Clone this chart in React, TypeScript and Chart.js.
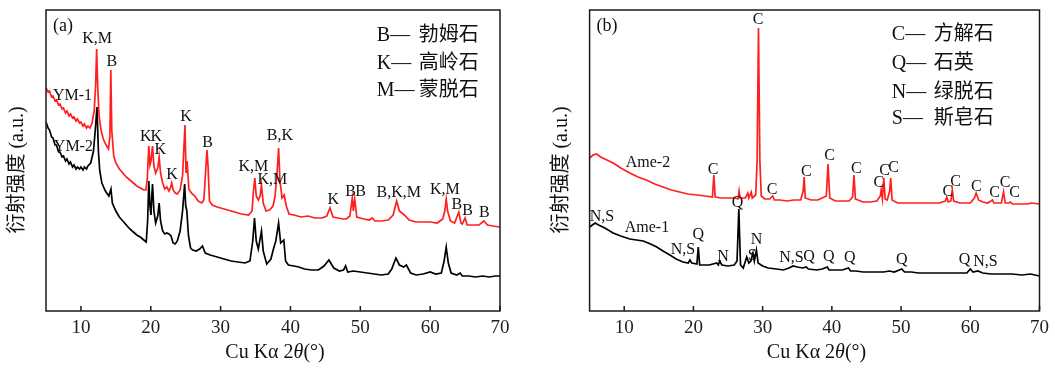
import React, { useEffect, useRef } from "react";
import { Chart, registerables } from "chart.js";
Chart.register(...registerables);

const SERIF = '"Liberation Serif", "Times New Roman", "Noto Sans CJK SC", serif';

const xTicks = [10, 20, 30, 40, 50, 60, 70];

// Panel (a) series: [2θ, intensity]
const ym1: [number, number][] = [[5.0,223],[5.3,219],[5.5,220],[5.8,214],[6.0,215],[6.3,210],[6.5,211],[6.8,206],[7.0,207],[7.3,202],[7.5,203],[7.8,198],[8.0,200],[8.3,195],[8.5,197],[8.8,193],[9.0,194],[9.3,190],[9.5,192],[9.8,188],[10.0,189],[10.3,185],[10.5,187],[10.8,183],[11.0,185],[11.3,183],[11.6,188],[11.9,200],[12.1,225],[12.25,262],[12.4,225],[12.6,195],[12.9,180],[13.2,172],[13.6,166],[13.95,162],[14.15,175],[14.28,241],[14.42,180],[14.7,155],[15.0,148],[15.5,142],[16.0,138],[16.5,134],[17.0,131],[17.5,128],[18.0,125],[18.5,123],[19.0,121],[19.3,121],[19.5,132],[19.72,165],[19.88,146],[20.03,150],[20.25,165],[20.45,145],[20.7,138],[21.0,143],[21.2,154],[21.4,138],[21.7,128],[22.0,122],[22.3,124],[22.6,120],[22.85,124],[23.0,128],[23.2,121],[23.5,118],[23.8,117],[24.2,121],[24.55,135],[24.9,186],[25.05,138],[25.2,150],[25.45,122],[25.8,118],[26.3,115],[26.8,110],[27.3,108],[27.6,111],[27.9,145],[28.05,161],[28.2,145],[28.4,110],[28.8,106],[29.5,104],[30.0,103],[31.0,101],[32.0,99],[33.0,97],[34.0,96],[34.5,100],[34.7,120],[34.9,133],[35.1,115],[35.4,111],[35.65,115],[35.85,126],[36.1,108],[36.5,100],[37.0,101],[37.5,105],[37.8,115],[38.1,140],[38.3,163],[38.5,130],[38.8,113],[39.1,116],[39.4,105],[39.8,97],[40.5,96],[41.5,94],[42.5,95],[43.5,93],[44.5,93],[45.2,95],[45.65,103],[46.1,94],[46.8,93],[47.5,92],[48.0,92],[48.5,95],[48.85,113],[49.0,100],[49.2,112],[49.5,94],[50.5,92],[51.3,91],[51.7,93],[52.1,90],[53.0,90],[54.0,91],[54.7,96],[55.2,110],[55.6,100],[56.3,96],[57.0,91],[58.0,89],[59.0,89],[60.0,89],[61.0,88],[61.8,92],[62.1,100],[62.3,112],[62.5,100],[62.9,90],[63.5,88],[64.1,99],[64.4,88],[64.6,87],[65.0,93],[65.3,86],[66.0,86],[67.0,86],[67.7,90],[68.2,86],[69.0,85],[70.0,84]];

const ym2: [number, number][] = [[5.0,189],[5.3,183],[5.5,181],[5.8,174],[6.0,173],[6.3,166],[6.5,166],[6.8,159],[7.0,159],[7.3,154],[7.5,155],[7.8,150],[8.0,152],[8.3,147],[8.5,149],[8.8,144],[9.0,146],[9.3,142],[9.5,144],[9.8,142],[10.0,144],[10.3,141],[10.5,144],[10.8,142],[11.0,145],[11.4,148],[11.8,160],[12.1,185],[12.3,204],[12.5,160],[12.7,140],[13.0,128],[13.5,120],[14.0,115],[14.3,122],[14.5,108],[15.0,100],[15.5,94],[16.0,90],[16.5,86],[17.0,82],[17.5,79],[18.0,76],[18.5,74],[19.0,71],[19.35,69],[19.55,90],[19.72,130],[19.88,105],[20.03,96],[20.15,115],[20.25,127],[20.45,100],[20.7,88],[21.0,95],[21.2,108],[21.4,90],[21.7,80],[22.0,77],[22.3,78],[22.6,77],[22.9,75],[23.2,68],[23.5,67],[23.8,70],[24.2,80],[24.55,100],[24.85,127],[25.0,105],[25.15,101],[25.4,75],[25.7,63],[26.0,61],[26.5,60],[27.0,62],[27.4,65],[27.8,58],[28.5,56],[29.5,54],[30.5,52],[31.5,50],[32.5,49],[33.5,48],[34.2,50],[34.6,70],[34.85,93],[35.1,70],[35.4,62],[35.6,70],[35.85,80],[36.1,60],[36.6,47],[37.2,52],[37.6,63],[37.9,70],[38.3,88],[38.6,68],[39.05,71],[39.3,50],[39.7,46],[40.5,45],[41.2,44],[42.0,42],[43.0,41],[44.0,41],[44.8,45],[45.5,51],[46.2,43],[47.0,40],[47.6,41],[47.9,45],[48.2,39],[49.0,40],[50.0,39],[51.0,38],[52.0,37],[53.0,36],[54.0,37],[54.5,42],[55.1,53],[55.6,46],[56.2,44],[56.6,46],[57.2,38],[58.0,36],[59.0,37],[60.0,39],[60.8,37],[61.6,38],[62.0,50],[62.3,64],[62.6,48],[63.0,38],[63.8,36],[64.3,38],[64.6,35],[65.5,35],[66.5,34],[67.5,35],[68.5,34],[69.3,35],[70.0,35]];

// Panel (b) series
const ame2: [number, number][] = [[5.0,153],[5.5,156],[6.0,157],[6.6,154],[7.5,151],[8.4,148],[9.5,143],[10.8,138],[12.0,134],[13.2,131],[14.4,127],[15.6,124],[16.8,121],[18.0,119],[19.2,117],[20.5,116],[21.7,115],[22.75,114],[22.95,136],[23.15,114],[24.0,113],[25.0,113],[26.0,113],[26.45,112],[26.6,120],[26.75,113],[27.5,113],[27.85,118],[28.0,113],[28.35,119],[28.5,113],[29.0,116],[29.2,150],[29.4,283],[29.6,150],[29.8,115],[30.3,112],[31.0,112],[31.45,115],[31.7,111],[32.5,111],[33.5,110],[34.5,111],[35.5,111],[35.85,120],[36.0,134],[36.15,113],[37.0,111],[38.0,111],[39.2,115],[39.45,147],[39.7,113],[40.5,110],[41.5,110],[42.5,110],[43.0,114],[43.2,136],[43.4,112],[44.5,109],[45.5,109],[46.5,110],[47.0,115],[47.12,121],[47.3,112],[47.5,133],[47.7,112],[48.0,111],[48.35,120],[48.5,133],[48.7,111],[49.5,108],[51.0,108],[52.5,108],[54.0,108],[55.5,108],[56.4,110],[56.6,114],[56.8,109],[57.2,110],[57.4,121],[57.6,110],[58.5,108],[60.0,108],[60.6,113],[60.85,118],[61.2,111],[61.8,109],[62.5,108],[63.0,110],[63.2,111],[63.4,108],[64.5,108],[64.8,119],[65.05,108],[65.6,108],[65.8,109],[66.1,107],[67.0,107],[68.3,107],[68.8,108],[70.0,107]];

const ame1: [number, number][] = [[5.0,84],[5.4,86],[5.8,88],[6.3,86],[7.2,83],[8.4,78],[9.5,75],[10.8,72],[12.75,70],[13.8,67],[14.7,64],[15.6,60],[16.6,56],[17.5,52],[18.5,49],[19.25,48],[19.5,51],[19.75,48],[20.5,47],[20.7,64],[20.9,46],[21.5,46],[22.3,46],[23.35,48],[23.6,46],[23.8,50],[24.1,46],[25.0,45],[25.9,46],[26.3,50],[26.56,102],[26.8,46],[27.2,43],[27.7,54],[28.0,48],[28.3,50],[28.6,58],[28.8,50],[29.1,61],[29.35,48],[30.0,45],[30.8,43],[32.0,42],[33.0,41],[33.8,43],[34.4,45],[35.0,44],[35.8,43],[36.3,44],[36.6,42],[37.8,41],[38.6,42],[39.35,44],[39.6,41],[40.5,41],[41.5,41],[42.4,43],[42.7,40],[43.5,40],[44.5,39],[45.5,39],[46.5,39],[47.5,39],[48.3,40],[49.0,39],[50.1,42],[50.5,39],[51.5,39],[52.5,38],[54.0,38],[55.5,38],[57.0,38],[58.5,38],[59.5,38],[60.0,42],[60.4,39],[61.1,40],[61.8,38],[63.0,37],[63.75,37],[65.0,37],[66.0,37],[67.5,36],[68.7,37],[70.0,35]];

// Peak labels: [text, 2θ, intensity]
const labelsA: [string, number, number][] = [["K,M",12.32,272],["B",14.43,249],["YM-1",8.8,215],["YM-2",8.92,164],["K",19.28,174],["K",20.78,174],["K",21.36,161],["K",23.03,136],["K",25.04,194],["B",28.14,168],["K,M",34.7,144],["K,M",37.42,131],["B,K",38.5,175],["K",46.13,111],["B",48.6,119],["B",50.05,119],["B,K,M",55.5,118],["K,M",62.1,121],["B",63.82,106],["B",65.36,100],["B",67.74,98]];

const labelsB: [string, number, number][] = [["C",29.34,291],["Ame-2",13.43,148],["C",22.85,141],["C",31.36,121],["C",36.33,139],["C",39.69,155],["C",43.54,142],["C",46.8,128],["C",47.63,140],["C",48.93,143],["C",56.76,119],["C",57.87,129],["C",60.86,124],["C",63.5,118],["C",65.04,128],["C",66.39,118],["N,S",6.79,94],["Ame-1",13.28,83],["N,S",18.48,61],["Q",20.69,76],["N",24.29,54],["Q",26.37,108],["N",29.11,71],["S",28.48,55],["N,S",34.16,53],["Q",36.7,54],["Q",39.55,54],["Q",42.58,53],["Q",50.12,51],["Q",59.17,51],["N,S",62.2,49]];

const legendA: [string, string][] = [["B—", "勃姆石"], ["K—", "高岭石"], ["M—", "蒙脱石"]];
const legendB: [string, string][] = [["C—", "方解石"], ["Q—", "石英"], ["N—", "绿脱石"], ["S—", "斯皂石"]];

type PanelCfg = {
  width: number;
  padLeft: number;
  padRight: number;
  series: { data: [number, number][]; color: string }[];
  labels: [string, number, number][];
  legend: [string, string][];
  legendX: number;
  legendY: number[];
  tag: string;
};

const panels: PanelCfg[] = [
  {
    width: 527, padLeft: 46, padRight: 27,
    series: [{ data: ym1, color: "#ff1f1f" }, { data: ym2, color: "#000000" }],
    labels: labelsA, legend: legendA, legendX: 123.3, legendY: [36, 63.5, 90.5], tag: "(a)",
  },
  {
    width: 528, padLeft: 62.6, padRight: 14,
    series: [{ data: ame2, color: "#ff1f1f" }, { data: ame1, color: "#000000" }],
    labels: labelsB, legend: legendB, legendX: 147.7, legendY: [35, 63.5, 92.5, 119], tag: "(b)",
  },
];

function makeDecor(p: PanelCfg) {
  return {
    id: "decor",
    afterDatasetsDraw(chart: any) {
      const { ctx, chartArea: a, scales } = chart;
      const xs = scales.x, ys = scales.y;
      ctx.save();
      ctx.strokeStyle = "#1a1a1a";
      ctx.lineWidth = 1.5;
      ctx.strokeRect(a.left, a.top, a.right - a.left, a.bottom - a.top);
      ctx.beginPath();
      for (const t of xTicks) {
        const px = xs.getPixelForValue(t);
        ctx.moveTo(px, a.bottom);
        ctx.lineTo(px, a.bottom - 5);
      }
      ctx.stroke();

      ctx.fillStyle = "#111";
      ctx.textBaseline = "middle";
      ctx.textAlign = "center";
      ctx.font = `16px ${SERIF}`;
      for (const [t, x, y] of p.labels) {
        ctx.fillText(t, xs.getPixelForValue(x), ys.getPixelForValue(y));
      }
      ctx.font = `18px ${SERIF}`;
      ctx.textAlign = "left";
      ctx.fillText(p.tag, a.left + 7, a.top + 16);

      ctx.font = `20px ${SERIF}`;
      p.legend.forEach(([l, c], i) => {
        const y = p.legendY[i];
        ctx.fillText(l, a.right - p.legendX, y);
        ctx.fillText(c, a.right - p.legendX + 42, y);
      });

      // x title with italic theta
      const parts: [string, string][] = [["Cu Kα 2", `20px ${SERIF}`], ["θ", `italic 20px ${SERIF}`], ["(°)", `20px ${SERIF}`]];
      let total = 0;
      for (const [s, f] of parts) { ctx.font = f; total += ctx.measureText(s).width; }
      let x0 = (a.left + a.right) / 2 + 2 - total / 2;
      for (const [s, f] of parts) { ctx.font = f; ctx.fillText(s, x0, 353); x0 += ctx.measureText(s).width; }

      // y title
      ctx.translate(a.left - 28, (a.top + a.bottom) / 2 + 9.5);
      ctx.rotate(-Math.PI / 2);
      ctx.textAlign = "center";
      ctx.font = `20px ${SERIF}`;
      ctx.fillText("衍射强度 (a.u.)", 0, 0);
      ctx.restore();
    },
  };
}

function Panel({ p }: { p: PanelCfg }) {
  const ref = useRef<HTMLCanvasElement | null>(null);
  useEffect(() => {
    if (!ref.current) return;
    const chart = new Chart(ref.current, {
      type: "line",
      data: {
        datasets: p.series.map((s) => ({
          data: s.data.map(([x, y]) => ({ x, y })),
          borderColor: s.color,
          borderWidth: 1.7,
          pointRadius: 0,
          tension: 0,
          fill: false,
        })),
      },
      options: {
        responsive: false,
        animation: false,
        devicePixelRatio: 1,
        layout: { padding: { left: p.padLeft, right: p.padRight, top: 10, bottom: 0 } },
        plugins: { legend: { display: false }, tooltip: { enabled: false } },
        scales: {
          x: {
            type: "linear",
            min: 5,
            max: 70,
            afterBuildTicks: (s: any) => { s.ticks = xTicks.map((v) => ({ value: v })); },
            afterFit: (s: any) => { s.height = 57; },
            grid: { display: false, drawTicks: false },
            border: { display: false },
            ticks: { color: "#222", padding: 6, maxRotation: 0, font: { family: SERIF, size: 19 } },
          },
          y: { type: "linear", min: 0, max: 301, display: false },
        },
      },
      plugins: [makeDecor(p)],
    } as any);
    return () => chart.destroy();
  }, [p]);
  return <canvas ref={ref} width={p.width} height={368} style={{ display: "block", width: p.width, height: 368 }} />;
}

export default function App() {
  return (
    <div style={{ position: "absolute", left: 0, top: 0, width: 1055, height: 368, background: "#fff", display: "flex" }}>
      {panels.map((p, i) => (
        <Panel key={i} p={p} />
      ))}
    </div>
  );
}
